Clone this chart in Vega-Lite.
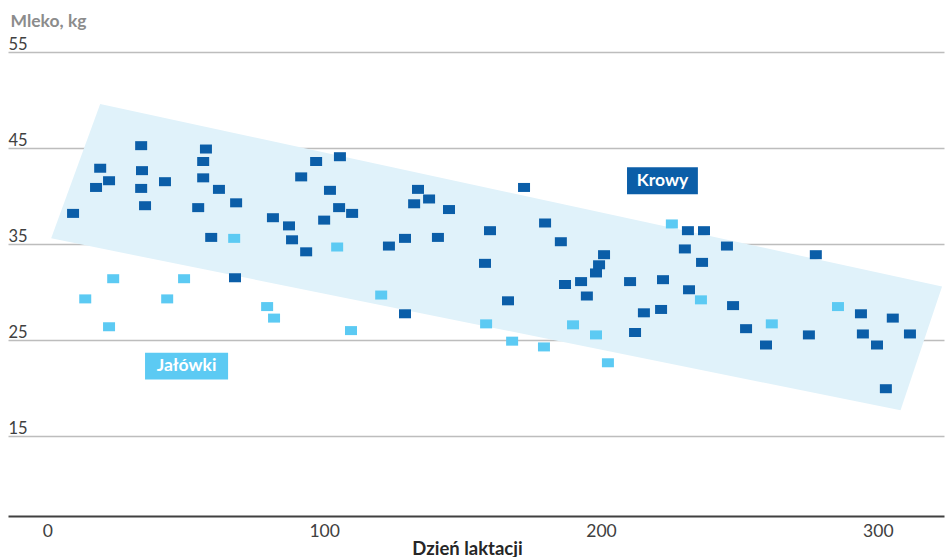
{
  "$schema": "https://vega.github.io/schema/vega-lite/v6.json",
  "width": 936,
  "height": 464,
  "autosize": {"type": "none"},
  "padding": {"left": 8, "top": 52, "right": 8, "bottom": 41},
  "background": "white",
  "config": {"view": {"stroke": null}, "font": "Lato"},
  "datasets": {
    "band": [
      {"i": 1, "x": 1.4, "y": 35.6},
      {"i": 2, "x": 19.1, "y": 49.6},
      {"i": 3, "x": 323.2, "y": 30.6},
      {"i": 4, "x": 308.2, "y": 17.7}
    ],
    "labels": [
      {"g": "Krowy", "x": 209.4, "xe": 235.0, "y": 40.2, "ye": 43.0, "xc": 222.2, "yc": 41.6},
      {"g": "Jałówki", "x": 35.3, "xe": 65.3, "y": 20.9, "ye": 23.7, "xc": 50.3, "yc": 22.3}
    ],
    "pts": [
      {"x": 9.3, "y": 38.2, "g": "Krowy"},
      {"x": 17.6, "y": 40.9, "g": "Krowy"},
      {"x": 19.1, "y": 42.9, "g": "Krowy"},
      {"x": 22.3, "y": 41.6, "g": "Krowy"},
      {"x": 33.9, "y": 45.25, "g": "Krowy"},
      {"x": 34.2, "y": 42.65, "g": "Krowy"},
      {"x": 33.9, "y": 40.8, "g": "Krowy"},
      {"x": 35.3, "y": 39.0, "g": "Krowy"},
      {"x": 42.5, "y": 41.5, "g": "Krowy"},
      {"x": 57.3, "y": 44.9, "g": "Krowy"},
      {"x": 56.3, "y": 43.6, "g": "Krowy"},
      {"x": 56.3, "y": 41.9, "g": "Krowy"},
      {"x": 54.5, "y": 38.8, "g": "Krowy"},
      {"x": 59.2, "y": 35.7, "g": "Krowy"},
      {"x": 62.0, "y": 40.7, "g": "Krowy"},
      {"x": 68.2, "y": 39.3, "g": "Krowy"},
      {"x": 67.8, "y": 31.5, "g": "Krowy"},
      {"x": 81.5, "y": 37.75, "g": "Krowy"},
      {"x": 87.3, "y": 36.9, "g": "Krowy"},
      {"x": 88.4, "y": 35.45, "g": "Krowy"},
      {"x": 93.5, "y": 34.2, "g": "Krowy"},
      {"x": 91.7, "y": 42.0, "g": "Krowy"},
      {"x": 97.1, "y": 43.6, "g": "Krowy"},
      {"x": 105.7, "y": 44.1, "g": "Krowy"},
      {"x": 102.1, "y": 40.6, "g": "Krowy"},
      {"x": 105.4, "y": 38.8, "g": "Krowy"},
      {"x": 110.1, "y": 38.2, "g": "Krowy"},
      {"x": 100.0, "y": 37.5, "g": "Krowy"},
      {"x": 123.4, "y": 34.8, "g": "Krowy"},
      {"x": 129.2, "y": 35.6, "g": "Krowy"},
      {"x": 141.1, "y": 35.7, "g": "Krowy"},
      {"x": 133.9, "y": 40.7, "g": "Krowy"},
      {"x": 132.5, "y": 39.2, "g": "Krowy"},
      {"x": 137.9, "y": 39.7, "g": "Krowy"},
      {"x": 145.1, "y": 38.6, "g": "Krowy"},
      {"x": 159.9, "y": 36.4, "g": "Krowy"},
      {"x": 158.1, "y": 33.0, "g": "Krowy"},
      {"x": 172.2, "y": 40.9, "g": "Krowy"},
      {"x": 179.8, "y": 37.2, "g": "Krowy"},
      {"x": 185.5, "y": 35.25, "g": "Krowy"},
      {"x": 201.1, "y": 33.9, "g": "Krowy"},
      {"x": 199.3, "y": 32.85, "g": "Krowy"},
      {"x": 198.2, "y": 32.0, "g": "Krowy"},
      {"x": 129.2, "y": 27.75, "g": "Krowy"},
      {"x": 166.4, "y": 29.1, "g": "Krowy"},
      {"x": 187.0, "y": 30.8, "g": "Krowy"},
      {"x": 192.8, "y": 31.1, "g": "Krowy"},
      {"x": 194.9, "y": 29.6, "g": "Krowy"},
      {"x": 231.4, "y": 36.4, "g": "Krowy"},
      {"x": 237.2, "y": 36.4, "g": "Krowy"},
      {"x": 230.3, "y": 34.5, "g": "Krowy"},
      {"x": 245.5, "y": 34.8, "g": "Krowy"},
      {"x": 236.5, "y": 33.1, "g": "Krowy"},
      {"x": 277.6, "y": 33.9, "g": "Krowy"},
      {"x": 210.5, "y": 31.1, "g": "Krowy"},
      {"x": 222.4, "y": 31.3, "g": "Krowy"},
      {"x": 231.8, "y": 30.25, "g": "Krowy"},
      {"x": 215.5, "y": 27.85, "g": "Krowy"},
      {"x": 221.7, "y": 28.2, "g": "Krowy"},
      {"x": 212.3, "y": 25.8, "g": "Krowy"},
      {"x": 247.7, "y": 28.6, "g": "Krowy"},
      {"x": 252.4, "y": 26.2, "g": "Krowy"},
      {"x": 259.6, "y": 24.5, "g": "Krowy"},
      {"x": 275.1, "y": 25.55, "g": "Krowy"},
      {"x": 293.9, "y": 27.75, "g": "Krowy"},
      {"x": 294.6, "y": 25.65, "g": "Krowy"},
      {"x": 299.7, "y": 24.5, "g": "Krowy"},
      {"x": 305.4, "y": 27.3, "g": "Krowy"},
      {"x": 311.6, "y": 25.65, "g": "Krowy"},
      {"x": 302.9, "y": 19.95, "g": "Krowy"},
      {"x": 104.7, "y": 34.7, "g": "Jałówki"},
      {"x": 67.5, "y": 35.6, "g": "Jałówki"},
      {"x": 225.6, "y": 37.1, "g": "Jałówki"},
      {"x": 236.1, "y": 29.2, "g": "Jałówki"},
      {"x": 261.7, "y": 26.7, "g": "Jałówki"},
      {"x": 285.6, "y": 28.5, "g": "Jałówki"},
      {"x": 120.6, "y": 29.7, "g": "Jałówki"},
      {"x": 109.7, "y": 26.0, "g": "Jałówki"},
      {"x": 158.5, "y": 26.7, "g": "Jałówki"},
      {"x": 167.9, "y": 24.9, "g": "Jałówki"},
      {"x": 179.4, "y": 24.3, "g": "Jałówki"},
      {"x": 189.9, "y": 26.6, "g": "Jałówki"},
      {"x": 198.2, "y": 25.55, "g": "Jałówki"},
      {"x": 202.5, "y": 22.65, "g": "Jałówki"},
      {"x": 23.8, "y": 31.4, "g": "Jałówki"},
      {"x": 49.4, "y": 31.4, "g": "Jałówki"},
      {"x": 13.7, "y": 29.3, "g": "Jałówki"},
      {"x": 43.3, "y": 29.3, "g": "Jałówki"},
      {"x": 22.3, "y": 26.4, "g": "Jałówki"},
      {"x": 79.4, "y": 28.5, "g": "Jałówki"},
      {"x": 81.9, "y": 27.3, "g": "Jałówki"}
    ]
  },
  "encoding": {
    "x": {
      "field": "x", "type": "quantitative",
      "scale": {"domain": [-14.2, 323.9], "nice": false, "zero": false},
      "axis": {
        "title": "Dzień laktacji", "values": [0, 100, 200, 300],
        "grid": false, "ticks": false, "domain": true, "domainColor": "#404040", "domainWidth": 2,
        "labelFont": "Lato", "labelFontSize": 17.5, "labelColor": "#404040", "labelBaseline": "alphabetic", "labelPadding": 20,
        "titleFont": "Lato", "titleFontSize": 18.5, "titleFontWeight": "bold", "titleColor": "#262626",
        "titleBaseline": "alphabetic", "titleAlign": "center", "titleX": 459, "titleY": 38
      }
    },
    "y": {
      "field": "y", "type": "quantitative",
      "scale": {"domain": [6.7, 55], "nice": false, "zero": false},
      "axis": {
        "title": "Mleko, kg", "values": [15, 25, 35, 45, 55],
        "grid": true, "gridColor": "#bdbdbd", "gridWidth": 1.5,
        "ticks": false, "domain": false,
        "labelFont": "Lato", "labelFontSize": 16.5, "labelColor": "#404040",
        "labelAlign": "left", "labelBaseline": "alphabetic", "labelPadding": 0, "labelOffset": -3,
        "titleFont": "Lato", "titleFontSize": 17.5, "titleFontWeight": "bold", "titleColor": "#8c8c8c",
        "titleAngle": 0, "titleAlign": "left", "titleBaseline": "alphabetic", "titleX": 2, "titleY": -26
      }
    }
  },
  "layer": [
    {
      "data": {"name": "band"},
      "mark": {"type": "line", "filled": true, "fill": "#e0f2fa", "stroke": null, "strokeWidth": 0},
      "encoding": {
        "order": {"field": "i", "type": "quantitative"}
      }
    },
    {
      "data": {"name": "pts"},
      "mark": {"type": "point", "filled": true, "opacity": 1, "size": 144, "shape": "M-1,-0.75L1,-0.75L1,0.75L-1,0.75Z"},
      "encoding": {
        "color": {"field": "g", "type": "nominal", "scale": {"domain": ["Krowy", "Jałówki"], "range": ["#0b5ea8", "#5ccaf3"]}, "legend": null}
      }
    },
    {
      "data": {"name": "labels"},
      "mark": {"type": "rect"},
      "encoding": {
        "x2": {"field": "xe"},
        "y2": {"field": "ye"},
        "color": {"field": "g", "type": "nominal", "scale": {"domain": ["Krowy", "Jałówki"], "range": ["#0b5ea8", "#5ccaf3"]}, "legend": null}
      }
    },
    {
      "data": {"name": "labels"},
      "mark": {"type": "text", "color": "white", "font": "Lato", "fontSize": 17.5, "fontWeight": "bold", "baseline": "middle", "align": "center"},
      "encoding": {
        "x": {"field": "xc", "type": "quantitative"},
        "y": {"field": "yc", "type": "quantitative"},
        "text": {"field": "g"}
      }
    }
  ]
}
